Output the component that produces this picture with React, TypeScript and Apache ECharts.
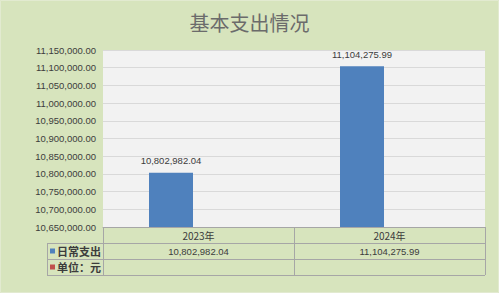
import React, { useEffect, useRef } from "react";
import * as echarts from "echarts";

const categories = ["2023年", "2024年"];
const dailyExpense = [10802982.04, 11104275.99];
const unitSeries: (number | null)[] = [null, null];
const seriesNames = ["日常支出", "单位：元"];
const seriesColors = ["#4f81bd", "#c0504d"];
const yMin = 10650000;
const yMax = 11150000;
const yStep = 50000;

const W = 499;
const H = 293;
const GRID_L = 103;
const GRID_R = 14;
const GRID_T = 50;
const GRID_B = 66;
const TABLE_L = 47;
const ROW_H = 16;

const fmt = (v: number) =>
  v.toLocaleString("en-US", { minimumFractionDigits: 2, maximumFractionDigits: 2 });

export default function App() {
  const ref = useRef<HTMLDivElement>(null);
  useEffect(() => {
    if (!ref.current) return;
    const chart = echarts.init(ref.current, undefined, { renderer: "svg" });
    const plotR = W - GRID_R;
    const axisY = H - GRID_B;
    const colW = (plotR - GRID_L) / categories.length;
    const lineColor = "#a6a6a6";
    const textColor = "#3c3c3c";
    const rowsTop = axisY + ROW_H;
    const graphics: any[] = [];
    graphics.push({
      type: "rect",
      shape: { x: 0.5, y: 0.5, width: W - 1, height: H - 1 },
      style: { fill: "none", stroke: "#e2ead0", lineWidth: 1 },
      silent: true,
    });
    // horizontal table lines
    for (let r = 0; r <= 2; r++) {
      const y = Math.round(rowsTop + r * ROW_H) + 0.5;
      graphics.push({
        type: "line",
        shape: { x1: TABLE_L, y1: y, x2: plotR, y2: y },
        style: { stroke: lineColor, lineWidth: 1 },
      });
    }
    graphics.push({
      type: "line",
      shape: { x1: TABLE_L + 0.5, y1: rowsTop, x2: TABLE_L + 0.5, y2: rowsTop + 2 * ROW_H },
      style: { stroke: lineColor, lineWidth: 1 },
    });
    // row legends
    seriesNames.forEach((name, r) => {
      const cy = rowsTop + r * ROW_H + ROW_H / 2;
      graphics.push({
        type: "rect",
        shape: { x: 50, y: cy - 2.5, width: 5, height: 5 },
        style: { fill: seriesColors[r] },
      });
      graphics.push({
        type: "text",
        x: GRID_L - 2,
        y: cy,
        style: {
          text: name,
          fill: textColor,
          font: "bold 11px 'Noto Sans CJK SC', sans-serif",
          align: "right",
          verticalAlign: "middle",
        },
      });
    });
    // table values
    dailyExpense.forEach((v, i) => {
      graphics.push({
        type: "text",
        x: GRID_L + colW * (i + 0.5),
        y: rowsTop + ROW_H / 2,
        style: {
          text: fmt(v),
          fill: textColor,
          font: "9.5px 'Liberation Sans', sans-serif",
          align: "center",
          verticalAlign: "middle",
        },
      });
    });

    chart.setOption({
      animation: false,
      backgroundColor: "#d7e4bd",
      title: {
        text: "基本支出情况",
        left: "center",
        top: 7,
        textStyle: {
          fontFamily: "'Noto Sans CJK SC', sans-serif",
          fontSize: 20,
          fontWeight: "normal",
          color: "#6b6b6b",
        },
      },
      grid: {
        left: GRID_L,
        right: GRID_R,
        top: GRID_T,
        bottom: GRID_B,
        show: true,
        backgroundColor: "#f2f2f2",
        borderWidth: 0,
      },
      xAxis: {
        type: "category",
        data: categories,
        axisLine: { lineStyle: { color: lineColor, width: 1 } },
        axisTick: { show: true, length: 3 * ROW_H, lineStyle: { color: lineColor } },
        axisLabel: {
          color: textColor,
          fontSize: 10,
          fontFamily: "'Noto Sans CJK SC', sans-serif",
          margin: 3,
        },
      },
      yAxis: {
        type: "value",
        min: yMin,
        max: yMax,
        interval: yStep,
        axisLine: { show: false },
        axisTick: { show: false },
        splitLine: { lineStyle: { color: "#d9d9d9", width: 1 } },
        axisLabel: {
          color: textColor,
          fontSize: 9.5,
          fontFamily: "'Liberation Sans', sans-serif",
          margin: 7,
          formatter: (v: number) => fmt(v),
        },
      },
      series: [
        {
          name: seriesNames[0],
          type: "bar",
          data: dailyExpense,
          barWidth: 44,
          barGap: "25%",
          itemStyle: { color: seriesColors[0] },
          label: {
            show: true,
            position: "top",
            distance: 7,
            color: textColor,
            fontSize: 9.5,
            fontFamily: "'Liberation Sans', sans-serif",
            formatter: (p: any) => fmt(p.value),
          },
        },
        {
          name: seriesNames[1],
          type: "bar",
          data: unitSeries,
          barWidth: 44,
          itemStyle: { color: seriesColors[1] },
        },
      ],
      graphic: graphics,
    });
    return () => chart.dispose();
  }, []);
  return (
    <div
      ref={ref}
      style={{ position: "fixed", left: 0, top: 0, width: W, height: H, boxSizing: "border-box" }}
    />
  );
}
